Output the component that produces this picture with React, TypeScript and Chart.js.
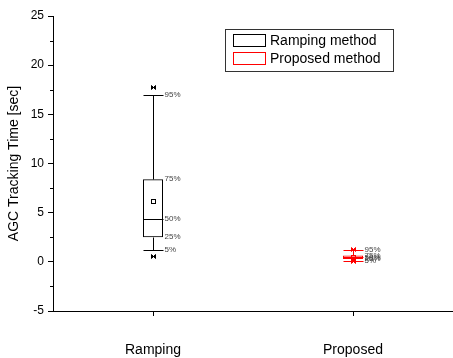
import React, { useEffect, useRef } from "react";
import { Chart, registerables } from "chart.js";

Chart.register(...registerables);

const categories = ["Ramping", "Proposed"];
const seriesNames = ["Ramping method", "Proposed method"];
const seriesColors = ["#000000", "#ff0000"];
const p5 = [1.2, 0.1];
const q1 = [2.5, 0.3];
const median = [4.4, 0.45];
const q3 = [8.4, 0.65];
const p95 = [17.0, 1.2];
const mean = [6.15, 0.45];
const minVal = [0.6, 0.05];
const maxVal = [17.8, 1.3];
const pctLabels = ["95%", "75%", "50%", "25%", "5%"];
const yMin = -5;
const yMax = 25;
const yStep = 2.5;
const yLabelStep = 5;
const yTitle = "AGC Tracking Time [sec]";

const FONT = "'Liberation Sans', Arial, sans-serif";

const boxPlugin = {
  id: "boxExtras",
  afterDatasetsDraw(chart: any) {
    const { ctx, scales } = chart;
    const xs = scales.x;
    const ys = scales.y;
    const half = 10;
    ctx.save();
    for (let i = 0; i < categories.length; i++) {
      const x = Math.round(xs.getPixelForValue(i)) + 0.5;
      const col = seriesColors[i];
      ctx.strokeStyle = col;
      ctx.lineWidth = 1;
      const Y = (v: number) => Math.round(ys.getPixelForValue(v)) + 0.5;
      ctx.beginPath();
      ctx.moveTo(x, Y(q3[i]));
      ctx.lineTo(x, Y(p95[i]));
      ctx.moveTo(x, Y(q1[i]));
      ctx.lineTo(x, Y(p5[i]));
      ctx.moveTo(x - half, Y(p95[i]));
      ctx.lineTo(x + half, Y(p95[i]));
      ctx.moveTo(x - half, Y(p5[i]));
      ctx.lineTo(x + half, Y(p5[i]));
      ctx.moveTo(x - half, Y(median[i]));
      ctx.lineTo(x + half, Y(median[i]));
      ctx.stroke();
      ctx.strokeRect(x - 2, Y(mean[i]) - 2, 4, 4);
      ctx.fillStyle = col;
      for (const v of [minVal[i], maxVal[i]]) {
        const yy = Y(v);
        ctx.beginPath();
        ctx.moveTo(x - 2, yy - 2);
        ctx.lineTo(x + 2, yy + 2);
        ctx.lineTo(x + 2, yy - 2);
        ctx.lineTo(x - 2, yy + 2);
        ctx.closePath();
        ctx.fill();
        ctx.stroke();
      }
      ctx.fillStyle = "#444";
      ctx.font = `8px ${FONT}`;
      ctx.textAlign = "left";
      ctx.textBaseline = "middle";
      const vals = [p95[i], q3[i], median[i], q1[i], p5[i]];
      vals.forEach((v, k) => {
        ctx.fillText(pctLabels[k], x + half + 1, ys.getPixelForValue(v));
      });
    }
    // minor ticks (shorter) on y axis
    ctx.strokeStyle = "#000";
    ctx.lineWidth = 1;
    ctx.beginPath();
    for (let v = yMin + yStep; v < yMax; v += yLabelStep) {
      const yy = Math.round(ys.getPixelForValue(v)) + 0.5;
      ctx.moveTo(ys.right - 3, yy);
      ctx.lineTo(ys.right, yy);
    }
    ctx.stroke();
    // legend
    const lx = 225.5, ly = 29.5, lw = 168, lh = 42;
    ctx.strokeStyle = "#333";
    ctx.strokeRect(lx, ly, lw, lh);
    ctx.font = `14px ${FONT}`;
    ctx.textBaseline = "middle";
    ctx.textAlign = "left";
    seriesNames.forEach((name, k) => {
      const sy = 34.5 + k * 18;
      ctx.strokeStyle = seriesColors[k];
      ctx.strokeRect(233.5, sy, 32, 12);
      ctx.fillStyle = "#000";
      ctx.fillText(name, 270, sy + 6.5);
    });
    ctx.restore();
  },
};

export default function App() {
  const ref = useRef<HTMLCanvasElement | null>(null);
  useEffect(() => {
    if (!ref.current) return;
    const chart = new Chart(ref.current, {
      type: "bar",
      data: {
        labels: categories,
        datasets: categories.map((_, i) => ({
          label: seriesNames[i],
          data: categories.map((__, j) => (j === i ? [q1[i], q3[i]] : null)) as any,
          backgroundColor: "rgba(0,0,0,0)",
          borderColor: seriesColors[i],
          borderWidth: 1,
          borderSkipped: false,
          grouped: false,
          barPercentage: 0.1,
          categoryPercentage: 1,
        })),
      },
      options: {
        animation: false,
        responsive: true,
        maintainAspectRatio: false,
        layout: { padding: { top: 16, right: 0, left: 0, bottom: 0 } },
        plugins: { legend: { display: false }, tooltip: { enabled: false } },
        scales: {
          x: {
            type: "category",
            offset: true,
            grid: { display: true, drawOnChartArea: false, offset: false, tickLength: 5, color: "#000" },
            border: { display: true, color: "#000", width: 1 },
            ticks: { font: { family: FONT, size: 14 }, color: "#000", padding: 26, maxRotation: 0 },
            afterFit: (s: any) => {
              s.height = 47;
            },
          },
          y: {
            type: "linear",
            min: yMin,
            max: yMax,
            ticks: {
              stepSize: yStep,
              callback: (v: any) => (Number(v) % yLabelStep === 0 ? String(v) : ""),
              font: { family: FONT, size: 12 },
              color: "#000",
              padding: 4,
            },
            grid: {
              display: true,
              drawOnChartArea: false,
              tickLength: 5,
              color: (c: any) => (c.tick && Number(c.tick.value) % yLabelStep === 0 ? "#000" : "rgba(0,0,0,0)"),
            },
            border: { display: true, color: "#000", width: 1 },
            title: {
              display: true,
              text: yTitle,
              font: { family: FONT, size: 14 },
              color: "#000",
              padding: { top: 6, bottom: 0 },
            },
            afterFit: (s: any) => {
              s.width = 53;
            },
          },
        },
      } as any,
      plugins: [boxPlugin],
    });
    return () => chart.destroy();
  }, []);
  return (
    <div style={{ position: "fixed", left: 0, top: 0, width: 453, height: 358, background: "#fff" }}>
      <canvas ref={ref} />
    </div>
  );
}
